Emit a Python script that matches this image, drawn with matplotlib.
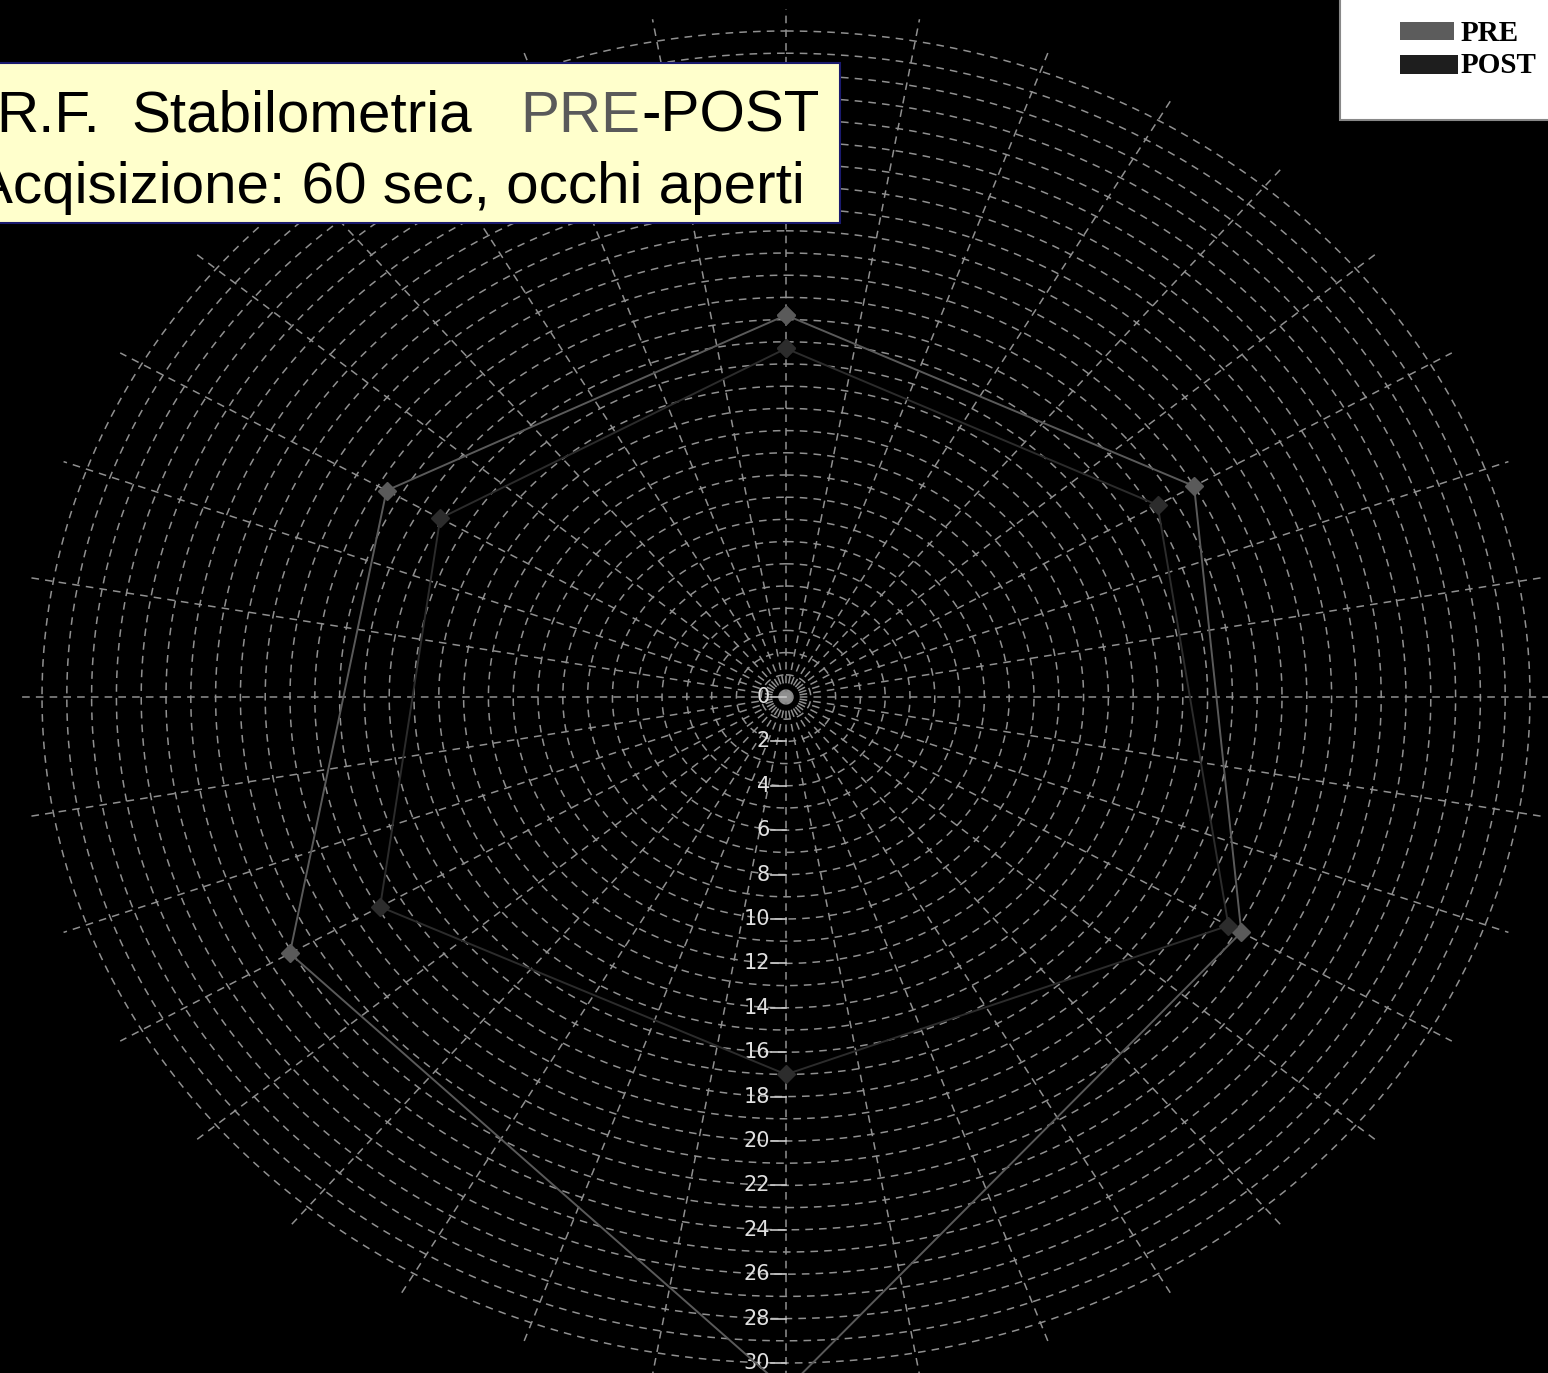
import numpy as np
import matplotlib.pyplot as plt
from matplotlib.patches import Rectangle

# stabilometry radar, six directions
categories = ['A', 'B', 'C', 'D', 'E', 'F']
pre_vals = [17.2, 19.0, 21.2, 31.2, 23.1, 18.6]
post_vals = [15.7, 17.3, 20.6, 17.0, 18.9, 16.1]
ring_ticks = list(range(0, 31, 2))

W, H = 1548, 1373
cx, cy = 786, 697        # centre of the web, pixels
sx, sy = 24.8, 22.2      # pixels per unit (web is slightly stretched)

fig = plt.figure(figsize=(W / 100, H / 100), dpi=100, facecolor='black')
ax = fig.add_axes([0, 0, 1, 1])
ax.set_facecolor('black')
ax.axis('off')
ax.set_xlim(-cx / sx, (W - cx) / sx)
ax.set_ylim(-(H - cy) / sy, cy / sy)

grid_col = '#909090'
dash = (0, (5, 4))

# rings
t = np.linspace(0, 2 * np.pi, 721)
for r in range(1, 31):
    ax.plot(r * np.sin(t), r * np.cos(t), color=grid_col, lw=1.1, ls=dash, zorder=1)

# spokes every 10 degrees
for a in np.deg2rad(np.arange(0, 360, 10)):
    ax.plot([0, 31 * np.sin(a)], [0, 31 * np.cos(a)], color=grid_col, lw=1.1, ls=dash, zorder=1)

# radial scale along the downward axis
for v in ring_ticks:
    ax.plot([-0.6, 0], [-v, -v], color='#c8c8c8', lw=1.2, zorder=3)
    ax.text(-0.65, -v, str(v), color='#e0e0e0', fontsize=15, ha='right', va='center',
            family='DejaVu Sans', zorder=3)

ang = np.linspace(0, 2 * np.pi, len(categories), endpoint=False)


def poly(vals, col, lw):
    v = np.array(vals + vals[:1])
    a = np.append(ang, ang[0])
    ax.plot(v * np.sin(a), v * np.cos(a), color=col, lw=lw, marker='D', ms=9,
            mfc=col, mec=col, zorder=4)


poly(pre_vals, '#5a5a5a', 1.4)
poly(post_vals, '#2c2c2c', 1.4)

# title box (top left, cut by slide edge)
def fx(px):
    return px / W


def fy(py):
    return 1 - py / H


fig.patches.append(Rectangle((fx(-10), fy(223)), fx(850), 160 / H, transform=fig.transFigure,
                             facecolor='#ffffcc', edgecolor='#1a1a6e', lw=1.5, zorder=10))
tkw = dict(fontsize=42, family='Liberation Sans', va='baseline', zorder=11)
fig.text(fx(100), fy(132), 'R.F.', ha='right', color='black', **tkw)
fig.text(fx(131), fy(132), 'Stabilometria', ha='left', color='black', **tkw)
fig.text(fx(640), fy(132), 'PRE', ha='right', color='#5a5a5a', **tkw)
fig.text(fx(820), fy(132), '-POST', ha='right', color='black', **tkw)
fig.text(fx(805), fy(203), 'Acqisizione: 60 sec, occhi aperti', ha='right', color='black', **tkw)

# legend box (top right)
fig.patches.append(Rectangle((fx(1340), fy(120)), fx(230), 130 / H, transform=fig.transFigure,
                             facecolor='white', edgecolor='#888888', lw=1.5, zorder=10))
fig.patches.append(Rectangle((fx(1400), fy(40)), fx(54), 18 / H, transform=fig.transFigure,
                             facecolor='#5c5c5c', edgecolor='none', zorder=11))
fig.patches.append(Rectangle((fx(1400), fy(74)), fx(58), 19 / H, transform=fig.transFigure,
                             facecolor='#1e1e1e', edgecolor='none', zorder=11))
lkw = dict(fontsize=21, family='Liberation Serif', fontweight='bold', va='baseline',
           ha='left', color='black', zorder=12)
fig.text(fx(1461), fy(41), 'PRE', **lkw)
fig.text(fx(1461), fy(73), 'POST', **lkw)

fig.savefig('out.png', dpi=100, facecolor='black')
